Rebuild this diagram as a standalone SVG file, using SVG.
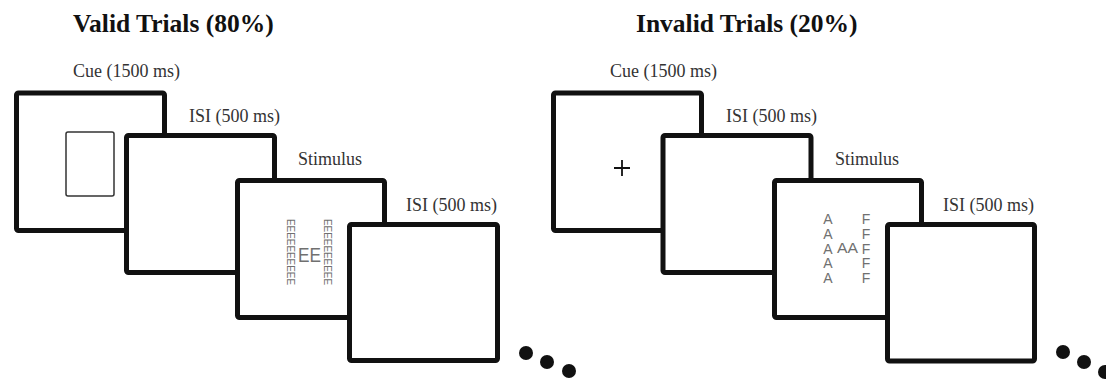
<svg xmlns="http://www.w3.org/2000/svg" width="1106" height="380" viewBox="0 0 1106 380">
<style>
.title{font-family:"Liberation Serif","Times New Roman",serif;font-weight:bold;font-size:25.5px;fill:#111}
.lbl{font-family:"Liberation Serif","Times New Roman",serif;font-size:18px;fill:#333}
.frame{fill:#fff;stroke:#111;stroke-width:5;stroke-linejoin:round}
.loc{font-family:"Liberation Sans",Arial,sans-serif;fill:#707070}
.vcol{font-family:"Liberation Sans",Arial,sans-serif;fill:#707070;font-size:14px;letter-spacing:-1.2px;writing-mode:vertical-rl;text-orientation:upright}
.dot{fill:#111}
</style>
<rect width="1106" height="380" fill="#fff"/>
<g id="valid">
  <text class="title" x="73" y="32">Valid Trials (80%)</text>
  <g id="v-cue">
    <text class="lbl" x="73" y="77">Cue (1500 ms)</text>
    <rect class="frame" x="16.5" y="93" width="148" height="137.5" rx="2"/>
    <rect x="66" y="132" width="48" height="64" rx="2" fill="none" stroke="#333" stroke-width="1.5"/>
  </g>
  <g id="v-isi1">
    <text class="lbl" x="189" y="122">ISI (500 ms)</text>
    <rect class="frame" x="126.5" y="135.5" width="148" height="137" rx="2"/>
  </g>
  <g id="v-stim">
    <text class="lbl" x="298" y="165">Stimulus</text>
    <rect class="frame" x="237.5" y="180.5" width="147" height="137" rx="2"/>
    <text class="loc" font-size="10" textLength="66" lengthAdjust="spacingAndGlyphs" transform="translate(287,219) rotate(90)">EEEEEEEEEE</text>
    <text class="loc" font-size="10" textLength="66" lengthAdjust="spacingAndGlyphs" transform="translate(324,219) rotate(90)">EEEEEEEEEE</text>
    <text class="loc" font-size="20" x="298" y="262" textLength="23" lengthAdjust="spacingAndGlyphs">EE</text>
  </g>
  <g id="v-isi2">
    <text class="lbl" x="406" y="211">ISI (500 ms)</text>
    <rect class="frame" x="349.5" y="224.5" width="148" height="136" rx="2"/>
  </g>
  <g id="v-dots">
    <circle class="dot" cx="526" cy="353" r="7"/>
    <circle class="dot" cx="547" cy="362" r="7"/>
    <circle class="dot" cx="569" cy="371" r="7"/>
  </g>
</g>
<g id="invalid">
  <text class="title" x="636" y="32">Invalid Trials (20%)</text>
  <g id="i-cue">
    <text class="lbl" x="610" y="77">Cue (1500 ms)</text>
    <rect class="frame" x="553.5" y="93" width="148" height="137.5" rx="2"/>
    <path d="M614 168H630M622 160V176" stroke="#111" stroke-width="1.8" fill="none"/>
  </g>
  <g id="i-isi1">
    <text class="lbl" x="726" y="122">ISI (500 ms)</text>
    <rect class="frame" x="663" y="135.5" width="148" height="137" rx="2"/>
  </g>
  <g id="i-stim">
    <text class="lbl" x="835" y="165">Stimulus</text>
    <rect class="frame" x="774.5" y="180.5" width="147" height="137" rx="2"/>
    <text class="vcol" x="828" y="211">AAAAA</text>
    <text class="loc" font-size="14" x="837" y="253" textLength="21" lengthAdjust="spacingAndGlyphs">AA</text>
    <text class="vcol" x="866" y="211">FFFFF</text>
  </g>
  <g id="i-isi2">
    <text class="lbl" x="943" y="211">ISI (500 ms)</text>
    <rect class="frame" x="887.5" y="224.5" width="147" height="136.5" rx="2"/>
  </g>
  <g id="i-dots">
    <circle class="dot" cx="1063" cy="352" r="7"/>
    <circle class="dot" cx="1084" cy="362" r="7"/>
    <circle class="dot" cx="1105" cy="372" r="7"/>
  </g>
</g>
</svg>
